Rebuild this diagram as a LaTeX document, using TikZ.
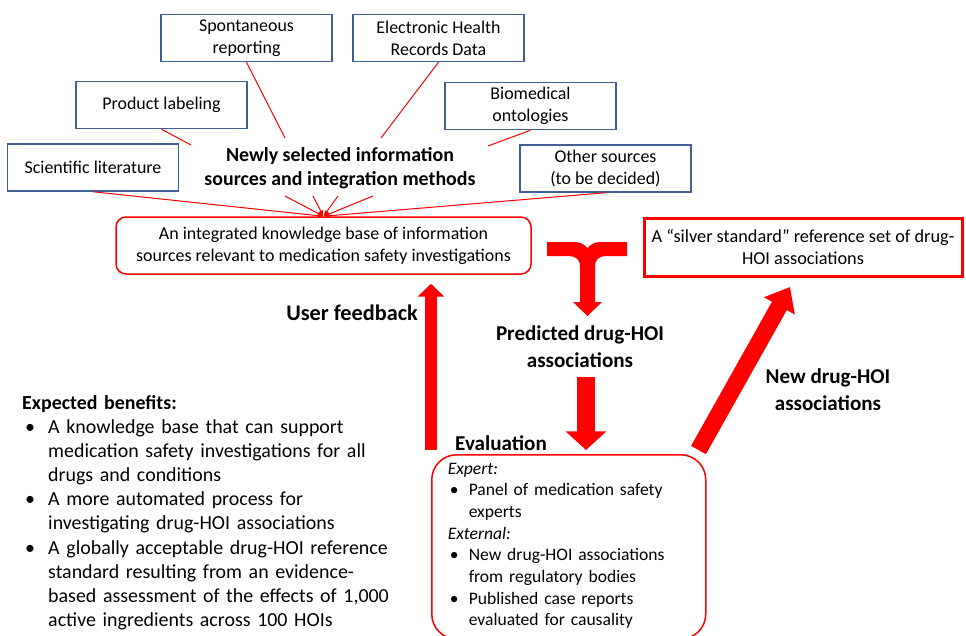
\documentclass[tikz,border=0pt]{standalone}
\usepackage{fontspec}
\setmainfont{Carlito}
\usetikzlibrary{arrows.meta,positioning}

\newlength{\px}\setlength{\px}{0.03cm}
\newlength{\bulind}
\newlength{\bulpad}
\definecolor{srcblue}{RGB}{62,96,148}
% bullet and continuation lines
\newcommand{\bitem}{\\\makebox[\bulind][l]{\hspace{\bulpad}\textbullet}}
\newcommand{\cont}{\\\hspace*{\bulind}}

\begin{document}
\begin{tikzpicture}
[x=0.03cm, y=-0.03cm,
% STYLES
% The source style is used for the blue information source boxes
source/.style={rectangle, draw=srcblue, line width=1.5\px, minimum width=171\px, minimum height=47\px, inner sep=0pt, align=center, font=\fontsize{15.3}{18.7}\selectfont},
% The store style is used for the red boxes
store/.style={rectangle, draw=red, line width=1.5\px, inner sep=0pt, align=center, font=\fontsize{15.3}{18.7}\selectfont},
% The hub style is used for the bold text between the sources
hub/.style={align=center, inner sep=0pt, font=\bfseries\fontsize{17}{20.5}\selectfont},
% The caption style is used for the bold labels of the flows
caption/.style={align=center, inner sep=0pt, font=\bfseries\fontsize{18}{23}\selectfont},
% The feed style is used for the thin red lines
feed/.style={draw=red, line width=1\px},
% The flow style is used for the fat red arrows
flow/.style={draw=red}]

\useasboundingbox (0,0) rectangle (966,636);

% Draw sources
\node [source] (spont) at (246.5,38) {Spontaneous\\reporting};
\node [source] (ehr) at (438.5,38) {Electronic Health\\Records Data};
\node [source] (label) at (161.5,105) {Product labeling};
\node [source] (onto) at (530.5,106) {Biomedical\\ontologies};
\node [source] (lit) at (93,167.5) {Scientific literature};
\node [source] (other) at (605.5,168.5) {Other sources\\(to be decided)};
\node [hub] (hub) at (340,168) {Newly selected information\\sources and integration methods};

% Draw stores
\node [store, rounded corners=10\px, minimum width=415\px, minimum height=57\px] (kb) at (323.5,245.5) {An integrated knowledge base of information\\sources relevant to medication safety investigations};
\node [store, line width=3\px, minimum width=318\px, minimum height=58\px, font=\fontsize{15.6}{18.7}\selectfont] (silver) at (803,247) {A “silver standard” reference set of drug-\\HOI associations};

% EVALUATION
\setlength{\bulind}{21\px}\setlength{\bulpad}{2\px}
\node [store, rounded corners=25\px, align=left, anchor=north west, text width=242\px, inner xsep=16\px, inner ysep=8\px, font=\fontsize{15}{18.5}\selectfont] (eval) at (431,454) {\textit{Expert:}
\bitem Panel of medication safety\cont experts
\\\textit{External:}
\bitem New drug-HOI associations\cont from regulatory bodies
\bitem Published case reports\cont evaluated for causality\\[-14pt]\mbox{}};
\node [caption, anchor=west] (evallbl) at (455,443) {Evaluation};

% Labels of the flows
\node [caption, anchor=east, font=\bfseries\fontsize{19}{23}\selectfont] (fblbl) at (418,313) {User feedback};
\node [caption] (pred) at (580,347) {Predicted drug-HOI\\associations};
\node [caption] (newlbl) at (828,390) {New drug-HOI\\associations};

% BENEFITS
\setlength{\bulind}{26\px}\setlength{\bulpad}{3\px}
\node [anchor=north west, text width=400\px, align=left, inner sep=0pt, font=\fontsize{17}{20.6}\selectfont] (benefits) at (22,395) {\textbf{Expected benefits:}
\bitem A knowledge base that can support\cont medication safety investigations for all\cont drugs and conditions
\bitem A more automated process for\cont investigating drug-HOI associations
\bitem A globally acceptable drug-HOI reference\cont standard resulting from an evidence-\cont based assessment of the effects of 1,000\cont active ingredients across 100 HOIs};

% Draw the links between sources
\coordinate (h-spont) at (285,138);
\coordinate (h-ehr) at (381,138);
\coordinate (h-label) at (191,145);
\coordinate (h-onto) at (488,146);
\coordinate (o1) at (285,196);
\coordinate (o2) at (313,196);
\coordinate (o3) at (338,196);
\coordinate (o4) at (373,196);
\path[feed]
    (spont.south) edge (h-spont)
    (ehr.south) edge (h-ehr)
    (label.south) edge (h-label)
    (onto.south) edge (h-onto);
\draw[feed, -{Latex[length=5pt, width=4pt]}] (lit.south) -- (kb.north);
\draw[feed, -{Latex[length=5pt, width=4pt]}] (other.south) -- (kb.north);
\draw[feed, -{Latex[length=5pt, width=4pt]}] (o1) -- (kb.north);
\draw[feed, -{Latex[length=5pt, width=4pt]}] (o2) -- (kb.north);
\draw[feed, -{Latex[length=5pt, width=4pt]}] (o3) -- (kb.north);
\draw[feed, -{Latex[length=5pt, width=4pt]}] (o4) -- (kb.north);

% Draw the fat arrows
\coordinate (predtop) at (586,377);
\coordinate (newtip) at (790,287);
\draw[flow, line width=11pt, -{Triangle[width=22pt, length=11pt]}]
    ([yshift=4\px]eval.north west) -- ([yshift=-9\px]kb.south -| eval.north west);
\draw[flow, line width=16pt, -{Triangle[width=34pt, length=16pt]}, shorten >=3.4pt]
    (predtop) -- (predtop |- eval.north);
\draw[flow, line width=14.5pt, -{Triangle[width=29pt, length=18.5pt]}]
    ([shift={(-8\px,4\px)}]eval.north east) -- (newtip);
\fill[red] (547,242) -- (574,242) .. controls (580,242) and (584,244) .. (587.5,248)
    .. controls (591,244) and (595,242) .. (601,242) -- (627,242) -- (627,256) -- (606,256)
    .. controls (599,256) and (595,260) .. (595,266) -- (595,302) -- (602,302) -- (587.5,316)
    -- (573,302) -- (580,302) -- (580,266) .. controls (580,260) and (576,256) .. (569,256)
    -- (547,256) -- cycle;

\end{tikzpicture}
\end{document}
